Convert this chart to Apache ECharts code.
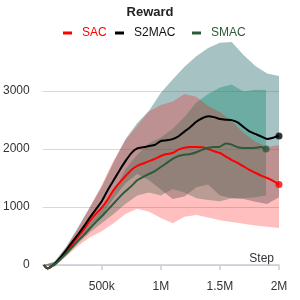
<!DOCTYPE html>
<html><head><meta charset="utf-8">
<script src="https://cdn.jsdelivr.net/npm/echarts@6/dist/echarts.min.js"></script>
<style>html,body{margin:0;padding:0;background:#fff}#c{width:300px;height:300px}</style>
</head><body><div id="c"></div>
<script>
// steps in millions
const lineSteps = [0.01,0.04,0.1,0.15,0.2,0.25,0.3,0.35,0.4,0.45,0.5,0.55,0.6,0.65,0.7,0.75,0.8,0.85,0.9,0.95,1.0,1.05,1.1,1.15,1.2,1.25,1.3,1.35,1.4,1.45,1.5,1.55,1.6,1.65,1.7,1.75,1.8,1.85,1.9,1.95,2.0];
const smacSteps = [0.01,0.04,0.1,0.15,0.2,0.25,0.3,0.35,0.4,0.45,0.5,0.55,0.6,0.65,0.7,0.75,0.8,0.85,0.9,0.95,1.0,1.05,1.1,1.15,1.2,1.25,1.3,1.35,1.4,1.45,1.5,1.55,1.6,1.65,1.7,1.75,1.8,1.85,1.89];
const sacMean   = [0,-60,10,110,230,360,490,620,760,880,990,1130,1290,1420,1530,1640,1710,1750,1790,1830,1880,1914,1930,1990,2020,2034,2036,2030,2000,1960,1931,1870,1810,1760,1700,1640,1590,1540,1500,1450,1390];
const s2macMean = [0,-60,20,130,260,400,530,670,820,960,1100,1290,1460,1630,1790,1930,2010,2030,2050,2070,2138,2150,2170,2220,2300,2379,2470,2530,2565,2550,2517,2505,2498,2460,2379,2305,2260,2215,2172,2195,2224];
const smacMean  = [0,-60,10,100,200,310,420,520,630,740,840,950,1060,1170,1270,1360,1460,1520,1570,1620,1690,1760,1830,1880,1900,1914,1945,1985,2020,2034,2040,2095,2075,2030,2017,2017,2020,2034,2000];

const bandSteps = [0.01,0.1,0.2,0.3,0.4,0.5,0.6,0.7,0.8,0.9,1.0,1.1,1.2,1.3,1.4,1.5,1.6,1.7,1.8,1.9,2.0];
const smacBandSteps = [0.01,0.1,0.2,0.3,0.4,0.5,0.6,0.7,0.8,0.9,1.0,1.1,1.2,1.3,1.4,1.5,1.6,1.7,1.8,1.89];
const s2macUpper = [0,60,320,650,1000,1350,1770,2170,2450,2660,2970,3200,3420,3600,3740,3830,3845,3620,3430,3300,3259];
const s2macLower = [0,-20,200,410,640,850,1150,1410,1570,1460,1300,1140,1180,1340,1390,1200,1150,1140,1090,1050,1170];
const sacUpper   = [0,40,300,640,1000,1380,1800,2150,2400,2650,2760,2820,2950,2900,2740,2640,2480,2276,2130,2034,2070];
const sacLower   = [0,-20,150,330,480,580,720,880,970,920,810,720,830,862,820,770,740,710,680,660,638];
const smacUpper  = [0,50,240,470,720,980,1250,1650,1900,2100,2200,2350,2550,2800,2950,3060,3110,2990,3020,3017];
const smacLower  = [0,-30,160,370,560,720,880,1050,1200,1250,1200,1310,1250,1150,1120,1100,1150,1150,1170,1200];

const seriesNames = ['SAC','S2MAC','SMAC'];
const xTickLabels = {'0.5':'500k','1':'1M','1.5':'1.5M','2':'2M'};

const zip = (xs, ys) => xs.map((x,i)=>[x, ys[i]]);
function band(name, xs, lo, hi, fill, z) {
  return {
    type:'custom', name, silent:true, z, clip:false,
    data: xs.map((x,i)=>[x, lo[i], hi[i]]),
    encode:{x:0, y:[1,2]},
    renderItem:(params, api) => {
      if (params.dataIndex !== 0) return;
      const pts = [];
      for (let i=0;i<xs.length;i++) pts.push(api.coord([xs[i], hi[i]]));
      for (let i=xs.length-1;i>=0;i--) pts.push(api.coord([xs[i], lo[i]]));
      return {type:'polygon', shape:{points:pts}, style:{fill, stroke:null}};
    }
  };
}
function line(name, xs, ys, color) {
  return {type:'line', name, data:zip(xs,ys), symbol:'none', smooth:0.2, clip:false, z:5,
    lineStyle:{color, width:2}, itemStyle:{color}};
}
function endDot(name, xs, ys, color) {
  return {type:'scatter', name, data:[[xs[xs.length-1], ys[ys.length-1]]], symbol:'circle', symbolSize:7, z:6,
    itemStyle:{color}, silent:true};
}
const colors = {SAC:'#ff0000', S2MAC:'#000000', SMAC:'#2d5a3a'};
function leg(name, left, color) {
  return {data:[name], top:22, left, icon:'rect', itemWidth:9, itemHeight:3, itemGap:0,
    textStyle:{color, fontSize:12, fontFamily:'Liberation Sans, Arial, sans-serif', padding:[0,0,0,5]}};
}
const chart = echarts.init(document.getElementById('c'));
chart.setOption({
  animation:false,
  title:{text:'Reward', left:'center', top:1, textStyle:{fontSize:13, fontWeight:'bold', color:'#222', fontFamily:'Liberation Sans, Arial, sans-serif'}},
  legend:[leg('SAC',58,colors.SAC), leg('S2MAC',110,'#111'), leg('SMAC',187,colors.SMAC)],
  grid:{left:42, right:21, top:91, bottom:35},
  xAxis:{type:'value', min:0, max:2, interval:0.5,
    name:'Step', nameLocation:'end', nameGap:0,
    nameTextStyle:{align:'right', verticalAlign:'bottom', lineHeight:12, padding:[0,5,0,0], color:'#333', fontSize:12, fontFamily:'Liberation Sans, Arial, sans-serif'},
    axisLine:{lineStyle:{color:'#c8ced6', width:1.5}},
    axisTick:{show:true, length:5, lineStyle:{color:'#c8ced6', width:1.5}},
    axisLabel:{showMinLabel:false, margin:16, color:'#333', fontSize:12, fontFamily:'Liberation Sans, Arial, sans-serif',
      formatter:v=>xTickLabels[String(v)]||''},
    splitLine:{show:false}},
  yAxis:{type:'value', min:0, max:3000, interval:1000,
    axisLine:{show:false}, axisTick:{show:false},
    axisLabel:{margin:13, color:'#333', fontSize:12, fontFamily:'Liberation Sans, Arial, sans-serif', formatter:v=>String(v)},
    splitLine:{lineStyle:{color:'#d8d8d8'}}},
  series:[
    band('S2MAC band', bandSteps, s2macLower, s2macUpper, 'rgba(60,120,120,0.45)', 1),
    band('SMAC band', smacBandSteps, smacLower, smacUpper, 'rgba(20,140,115,0.4)', 2),
    band('SAC band', bandSteps, sacLower, sacUpper, 'rgba(255,0,0,0.25)', 3),
    line('SAC', lineSteps, sacMean, colors.SAC),
    line('S2MAC', lineSteps, s2macMean, colors.S2MAC),
    line('SMAC', smacSteps, smacMean, colors.SMAC),
    endDot('SAC end', lineSteps, sacMean, colors.SAC),
    endDot('S2MAC end', lineSteps, s2macMean, colors.S2MAC),
    endDot('SMAC end', smacSteps, smacMean, colors.SMAC)
  ]
});
</script></body></html>
